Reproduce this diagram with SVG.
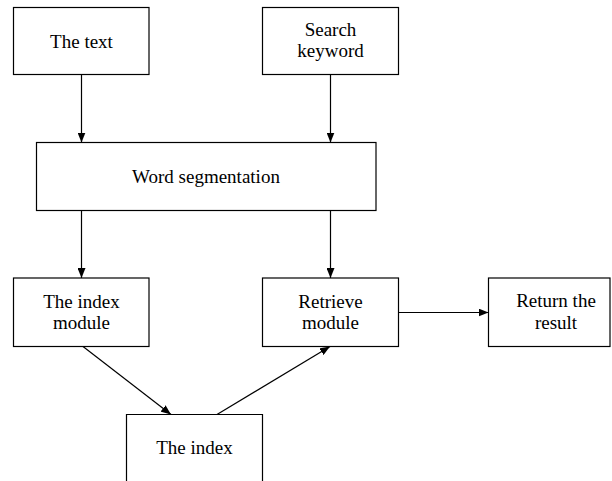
<svg xmlns="http://www.w3.org/2000/svg" width="612" height="481" viewBox="0 0 612 481">
  <defs>
    <marker id="arrow" viewBox="0 0 10 8" refX="10" refY="4" markerWidth="10" markerHeight="8" markerUnits="userSpaceOnUse" orient="auto">
      <path d="M0,0 L10,4 L0,8 Z" fill="#000"/>
    </marker>
  </defs>
  <style>
    .box { fill: #fff; stroke: #000; stroke-width: 1.2; }
    .lbl { font-family: "Liberation Serif", "Times New Roman", serif; font-size: 19px; fill: #000; text-anchor: middle; }
    .edge { stroke: #000; stroke-width: 1.2; fill: none; marker-end: url(#arrow); }
  </style>
  <rect width="612" height="481" fill="#fff"/>

  <g id="node-text">
    <rect class="box" x="13.5" y="7.5" width="135.5" height="67"/>
    <text class="lbl" x="81.5" y="47.5">The text</text>
  </g>
  <g id="node-search">
    <rect class="box" x="262.5" y="7.5" width="136" height="67"/>
    <text class="lbl" x="330.5" y="35.5">Search</text>
    <text class="lbl" x="330.5" y="57">keyword</text>
  </g>
  <g id="node-segmentation">
    <rect class="box" x="36.5" y="142.5" width="339.5" height="68"/>
    <text class="lbl" x="206" y="183">Word segmentation</text>
  </g>
  <g id="node-index-module">
    <rect class="box" x="13.5" y="278" width="135.5" height="68.5"/>
    <text class="lbl" x="81.5" y="307.5">The index</text>
    <text class="lbl" x="81.5" y="329">module</text>
  </g>
  <g id="node-retrieve">
    <rect class="box" x="262.5" y="278" width="136" height="68.5"/>
    <text class="lbl" x="330.5" y="307.5">Retrieve</text>
    <text class="lbl" x="330.5" y="329">module</text>
  </g>
  <g id="node-result">
    <rect class="box" x="488.5" y="278" width="121.5" height="68.5"/>
    <text class="lbl" x="556" y="307">Return the</text>
    <text class="lbl" x="556" y="328.5">result</text>
  </g>
  <g id="node-index">
    <path class="box" d="M126.5,482 V414.5 H262.5 V482"/>
    <text class="lbl" x="194.5" y="453.5">The index</text>
  </g>

  <g id="connectors">
    <line class="edge" x1="81.5" y1="74.5" x2="81.5" y2="142.5"/>
    <line class="edge" x1="330.5" y1="74.5" x2="330.5" y2="142.5"/>
    <line class="edge" x1="81.5" y1="210.5" x2="81.5" y2="278"/>
    <line class="edge" x1="330.5" y1="210.5" x2="330.5" y2="278"/>
    <line class="edge" x1="398.5" y1="312.5" x2="488.5" y2="312.5"/>
    <line class="edge" x1="83" y1="346.5" x2="171" y2="414.5"/>
    <line class="edge" x1="217" y1="414.5" x2="330" y2="346.5"/>
  </g>
</svg>
